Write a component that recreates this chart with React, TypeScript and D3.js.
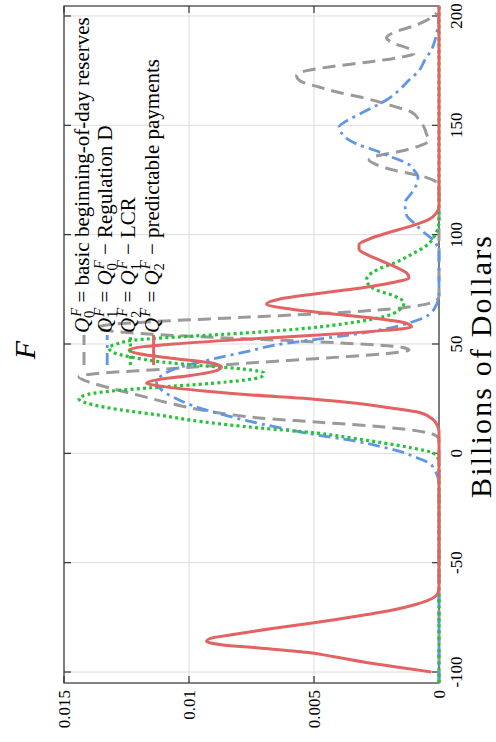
import React from 'react';
import * as d3 from 'd3';

// ---- data (Billions of Dollars, density) ----
const billionsTicks = [-100, -50, 0, 50, 100, 150, 200];
const billionsTickLabels = ['-100', '-50', '0', '50', '100', '150', '200'];
const densityTicks = [0, 0.005, 0.01, 0.015];
const densityTickLabels = ['0', '0.005', '0.01', '0.015'];

// Q0^F basic beginning-of-day reserves (grey dashed)
const seriesQ0: [number, number][] = [
  [-105, 0], [6, 0], [7.9, 0.0001], [9.8, 0.0006], [12, 0.0022], [14.3, 0.0049], [16.2, 0.0072],
  [17.5, 0.0082], [20, 0.0096], [23, 0.0108], [26.5, 0.012], [30, 0.0132], [33, 0.0141], [34.9, 0.0144],
  [36.5, 0.0137], [38.5, 0.011], [41.3, 0.0076], [44, 0.004], [46, 0.0018], [47.3, 0.0012], [48.5, 0.0015],
  [50.5, 0.004], [52.5, 0.008], [54.5, 0.0115], [56, 0.0132], [57.3, 0.0137], [58.7, 0.0133], [60, 0.0118],
  [62.3, 0.0076], [64.6, 0.0036], [66.5, 0.0015], [68, 0.0006], [70, 0.0001], [72, 0], [122, 0],
  [124, 0.0001], [126.5, 0.0006], [129.5, 0.0018], [132, 0.0025], [134.1, 0.0028], [136, 0.0025],
  [138, 0.0016], [140.5, 0.0008], [143, 0.0004], [146, 0.0005], [149.2, 0.0006], [152.5, 0.0008],
  [156, 0.0011], [159, 0.0019], [162.5, 0.003], [165, 0.004], [167.5, 0.0048], [170, 0.0055],
  [172.6, 0.0057], [175, 0.0053], [177, 0.0042], [179, 0.0028], [181, 0.0016], [182.8, 0.001],
  [185, 0.0012], [187.5, 0.0018], [190, 0.0021], [192.5, 0.0018], [195.5, 0.001], [198, 0.0005],
  [200, 0.0002], [201.5, 0.0001],
];

// Q1^F = Q0^F - Regulation D (blue dash-dot)
const seriesQ1: [number, number][] = [
  [-105, 0], [-14, 0], [-10.8, 0.00005], [-7.5, 0.00018], [-4.4, 0.0004], [-1.5, 0.001], [1, 0.0016],
  [3, 0.0023], [5.5, 0.0033], [8.4, 0.0049], [11.5, 0.0063], [15, 0.0077], [18.5, 0.0089], [22, 0.0099],
  [25.5, 0.0106], [29, 0.0111], [32.5, 0.0113], [35.5, 0.0111], [38, 0.0107], [40.5, 0.01], [43.5, 0.0089],
  [46.5, 0.0077], [50, 0.0063], [52, 0.005], [54.1, 0.0036], [57, 0.0021], [59.6, 0.0012], [62, 0.0006],
  [64.5, 0.0003], [68, 0.0001], [72, 0], [93, 0], [95.5, 0.0001], [97.6, 0.00024], [101, 0.0006],
  [105.3, 0.001], [109, 0.0013], [114.5, 0.00136], [119, 0.0011], [123, 0.0009], [126.4, 0.00084],
  [129.5, 0.001], [132.8, 0.0013], [135.5, 0.0019], [138.7, 0.0026], [141.5, 0.0033], [144, 0.0037],
  [146.5, 0.0039], [149.2, 0.004], [152, 0.0037], [155.6, 0.0031], [158.5, 0.0026], [161.6, 0.0021],
  [166, 0.0016], [170.7, 0.0012], [175, 0.0008], [180, 0.00056], [184.5, 0.0003], [189, 0.00016],
  [194, 0.00006], [198, 0.00002], [204.6, 0],
];

// Q2^F = Q1^F - LCR (green dotted)
const seriesQ2: [number, number][] = [
  [-105, 0], [-4, 0], [-2, 0.00005], [0.2, 0.00024], [2.5, 0.0011], [4.7, 0.0022], [7, 0.0035],
  [9.3, 0.0049], [11.6, 0.0072], [14.5, 0.0095], [17.5, 0.0112], [20, 0.0128], [22.1, 0.0138],
  [25, 0.0144], [27.5, 0.0138], [30, 0.0115], [32, 0.0091], [33.5, 0.0078], [35, 0.0071], [36.7, 0.007],
  [38.5, 0.0078], [40, 0.0094], [41.8, 0.0111], [44, 0.0123], [46, 0.013], [48.2, 0.0132], [50, 0.0129],
  [52, 0.012], [53.5, 0.01], [55, 0.0078], [57.3, 0.0052], [59.6, 0.0036], [62.5, 0.0022], [65.5, 0.0016],
  [68.8, 0.0014], [72, 0.0018], [74.7, 0.0025], [77, 0.0028], [79.3, 0.0029], [81.5, 0.0028],
  [83.8, 0.0025], [87.5, 0.0017], [91.6, 0.001], [95, 0.0005], [99, 0.0002], [103, 0.00004], [106, 0],
  [204.6, 0],
];

// Q^F = Q2^F - predictable payments (red solid)
const seriesQ: [number, number][] = [
  [-100, 0.0003], [-98.5, 0.0012], [-96, 0.0027], [-93, 0.0042], [-91, 0.0053], [-89, 0.0072],
  [-87.5, 0.0087], [-86, 0.0093], [-84.5, 0.0091], [-83, 0.0083], [-80, 0.0066], [-77.5, 0.005],
  [-74.5, 0.0033], [-71.5, 0.0018], [-69, 0.0009], [-66.5, 0.0003], [-64, 0.00005], [-61, 0], [10, 0],
  [13, 0.00008], [16, 0.0003], [19, 0.0009], [21.2, 0.0022], [23.2, 0.0036], [25, 0.0052], [26.7, 0.0075],
  [28.5, 0.0094], [30.5, 0.011], [32.2, 0.0117], [33.8, 0.0112], [35.5, 0.01], [37.5, 0.009],
  [39.5, 0.0087], [41.5, 0.0092], [43.5, 0.0107], [45.5, 0.012], [47.2, 0.0124], [48.8, 0.0118],
  [50, 0.0106], [52, 0.008], [54, 0.005], [56, 0.0024], [57.8, 0.0011], [59.5, 0.0013], [61.5, 0.0024],
  [63.8, 0.0043], [66.2, 0.0061], [68.3, 0.0069], [70.5, 0.0064], [73, 0.0049], [75.5, 0.0032],
  [78, 0.0019], [80.3, 0.0012], [82.5, 0.0013], [85, 0.0017], [88, 0.0023], [91, 0.0029], [93.5, 0.0032],
  [95.5, 0.0032], [98, 0.0028], [101, 0.002], [104, 0.0011], [107, 0.0004], [110, 0.0001], [113, 0],
  [204.6, 0],
];

// legend: left-hand symbol subscript, right-hand symbol subscript, description
const legendLhsSubs = ['0', '1', '2', ''];
const legendRhsSubs = [null, '0', '1', '2'] as (string | null)[];
const legendTexts = ['basic beginning-of-day reserves', 'Regulation D', 'LCR', 'predictable payments'];

// ---- layout (inner, un-rotated frame 742 x 496) ----
const IW = 742;
const FONT = '"Liberation Serif", "Times New Roman", serif';

const x = d3.scaleLinear().domain([-105.03, 204.57]).range([59, 736]);
const y = d3.scaleLinear().domain([0, 0.015]).range([439, 64]);
const line = d3
  .line<[number, number]>()
  .x((d) => x(d[0]))
  .y((d) => y(d[1]))
  .curve(d3.curveMonotoneX);

const styles = [
  { color: '#9a9a9a', dash: '13,7', width: 3 },
  { color: '#5f96e8', dash: '12,5,3,5', width: 2.8 },
  { color: '#26c23a', dash: '3,3.2', width: 3.2 },
  { color: '#e36262', dash: undefined as string | undefined, width: 3 },
];
const seriesList = [seriesQ0, seriesQ1, seriesQ2, seriesQ];

// renders Q_sub^F followed by `after` text (the after text restores the baseline)
function qTspans(sub: string, size: number, after: string, key: string) {
  const s = size * 0.7;
  const fW = s * 0.62;
  const subW = sub ? s * 0.5 : 0;
  const out: JSX.Element[] = [];
  out.push(<tspan key={key + 'q'} fontStyle="italic">Q</tspan>);
  out.push(
    <tspan key={key + 'f'} fontStyle="italic" fontSize={s} dy={-size * 0.4} dx={1}>F</tspan>
  );
  if (sub) {
    out.push(
      <tspan key={key + 's'} fontSize={s} dx={-fW - 1} dy={size * 0.65}>{sub}</tspan>
    );
    out.push(
      <tspan key={key + 'a'} fontSize={size} dx={Math.max(0, fW - subW) + 1} dy={-size * 0.25}>{after}</tspan>
    );
  } else {
    out.push(
      <tspan key={key + 'a'} fontSize={size} dy={size * 0.4}>{after}</tspan>
    );
  }
  return out;
}

export default function App() {
  const xt = billionsTicks;
  const lfs = 21;
  return (
    <svg width={496} height={742} style={{ position: 'absolute', left: 0, top: 0, background: '#fff' }}>
      <rect width={496} height={742} fill="#fff" />
      <g transform={`translate(0,${IW}) rotate(-90)`} fontFamily={FONT}>
        {/* grid */}
        {xt.map((t) => (
          <line key={'gx' + t} x1={x(t)} x2={x(t)} y1={64} y2={439} stroke="#dcdcdc" strokeWidth={1} />
        ))}
        {densityTicks.map((t) => (
          <line key={'gy' + t} x1={59} x2={736} y1={y(t)} y2={y(t)} stroke="#dcdcdc" strokeWidth={1} />
        ))}
        {/* frame */}
        <rect x={59} y={64} width={677} height={375} fill="none" stroke="#333" strokeWidth={1.2} />
        {xt.map((t) => (
          <g key={'tx' + t}>
            <line x1={x(t)} x2={x(t)} y1={439} y2={432} stroke="#333" strokeWidth={1.2} />
            <line x1={x(t)} x2={x(t)} y1={64} y2={71} stroke="#333" strokeWidth={1.2} />
          </g>
        ))}
        {densityTicks.map((t) => (
          <g key={'ty' + t}>
            <line x1={59} x2={66} y1={y(t)} y2={y(t)} stroke="#333" strokeWidth={1.2} />
            <line x1={736} x2={729} y1={y(t)} y2={y(t)} stroke="#333" strokeWidth={1.2} />
          </g>
        ))}
        {/* tick labels */}
        {xt.map((t, i) => (
          <text key={'lx' + t} x={x(t)} y={462} fontSize={17} textAnchor="middle">
            {billionsTickLabels[i]}
          </text>
        ))}
        {densityTicks.map((t, i) => (
          <text key={'ly' + t} x={52} y={y(t) + 5.5} fontSize={17} textAnchor="end">
            {densityTickLabels[i]}
          </text>
        ))}
        {/* axis titles */}
        <text x={375} y={491} fontSize={30} textAnchor="middle" textLength={262} lengthAdjust="spacing">
          Billions of Dollars
        </text>
        <text x={392} y={35} fontSize={30} fontStyle="italic" textAnchor="middle">F</text>
        {/* series */}
        {seriesList.map((s, i) => (
          <path
            key={'s' + i}
            d={line(s) || ''}
            fill="none"
            stroke={styles[i].color}
            strokeWidth={styles[i].width}
            strokeDasharray={styles[i].dash}
            strokeLinejoin="round"
          />
        ))}
        {/* legend */}
        {legendTexts.map((txt, i) => {
          const base = 89 + i * 23.2;
          const st = styles[i];
          const rhsSub = legendRhsSubs[i];
          return (
            <g key={'lg' + i}>
              <line x1={377} x2={407} y1={base - 5} y2={base - 5} stroke={st.color} strokeWidth={st.width}
                strokeDasharray={st.dash} />
              <text x={409} y={base} fontSize={lfs}>
                {rhsSub === null
                  ? qTspans(legendLhsSubs[i], lfs, ' = ' + txt, 'l' + i)
                  : [
                      ...qTspans(legendLhsSubs[i], lfs, ' = ', 'l' + i),
                      ...qTspans(rhsSub, lfs, ' \u2212 ' + txt, 'r' + i),
                    ]}
              </text>
            </g>
          );
        })}
      </g>
    </svg>
  );
}
